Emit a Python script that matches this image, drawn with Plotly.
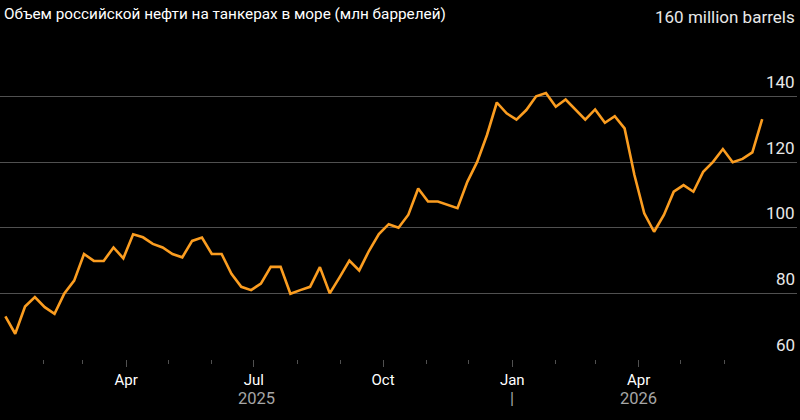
import pandas as pd
import plotly.graph_objects as go

# ---- data ----
start_date = "2025-01-05"
volumes = [73.0, 67.7, 76.0, 78.9, 75.8, 73.8, 80.0, 83.9, 92.0, 89.9,
           89.9, 94.0, 90.7, 98.0, 97.1, 95.1, 94.0, 92.0, 91.0, 96.0,
           97.0, 92.0, 92.0, 86.0, 82.0, 81.0, 83.0, 88.1, 88.1, 79.9,
           81.0, 82.0, 88.0, 80.0, 84.9, 90.0, 87.0, 93.0, 98.1, 101.1,
           100.0, 104.0, 112.0, 108.0, 108.0, 107.0, 106.0, 114.0, 120.1, 128.3,
           138.2, 134.9, 133.0, 135.9, 140.1, 141.1, 136.9, 139.1, 136.1, 133.0,
           136.1, 132.0, 134.0, 130.3, 116.1, 104.4, 98.8, 103.9, 111.0, 113.0,
           111.0, 117.1, 120.1, 124.0, 120.0, 121.0, 123.0, 133.1]
dates = pd.date_range(start_date, periods=len(volumes), freq="7D")

y_tickvals = [60, 80, 100, 120, 140, 160]
y_ticktext = ["60", "80", "100", "120", "140", "160 million barrels"]

x_major_vals = ["2025-04-01", "2025-07-01", "2025-10-01", "2026-01-01", "2026-04-01"]
x_major_text = ["Apr", "Jul", "Oct", "Jan", "Apr"]
x_minor_vals = [d.strftime("%Y-%m-%d") for d in pd.date_range("2025-02-01", "2026-06-01", freq="MS")]

year_labels = ["2025", "|", "2026"]
year_pos = ["2025-07-03", "2026-01-01", "2026-04-01"]

title = "Объем российской нефти на танкерах в море (млн баррелей)"

FONT = "Roboto"
GRID = "#505050"
LINE = "#fb9d20"

fig = go.Figure()
fig.add_trace(go.Scatter(x=dates, y=volumes, mode="lines",
                         line=dict(color=LINE, width=2.6), hoverinfo="skip"))

fig.update_layout(
    width=800, height=420,
    paper_bgcolor="#000000", plot_bgcolor="#000000",
    margin=dict(l=0, r=3, t=31, b=61),
    showlegend=False,
    font=dict(family=FONT, color="#ffffff", size=15),
    xaxis=dict(
        type="date",
        range=["2025-01-01 04:00", "2026-07-22 19:00"],
        tickmode="array", tickvals=x_major_vals, ticktext=x_major_text,
        ticks="outside", ticklen=7, tickcolor=GRID, tickwidth=1,
        tickfont=dict(family=FONT, size=15, color="#ffffff"),
        showgrid=False, zeroline=False, showline=False,
        minor=dict(tickmode="array", tickvals=x_minor_vals, ticks="outside",
                   ticklen=4, tickcolor=GRID, tickwidth=1, showgrid=False),
    ),
    yaxis=dict(
        range=[60, 160], side="right",
        tickmode="array", tickvals=y_tickvals,
        showticklabels=False, ticks="",
        showgrid=True, gridcolor=GRID, gridwidth=1,
        zeroline=False, showline=False,
    ),
)

annotations = []
for v, t in zip(y_tickvals, y_ticktext):
    annotations.append(dict(x=1, xref="paper", xanchor="right", y=v, yref="y",
                            yanchor="middle", yshift=14.5, text=t, showarrow=False,
                            font=dict(family=FONT, size=17, color="#e8e8e8")))
for t, d in zip(year_labels, year_pos):
    annotations.append(dict(x=d, xref="x", xanchor="center", y=-0.119, yref="paper",
                            yanchor="middle", text=t, showarrow=False,
                            font=dict(family=FONT, size=16.5, color="#a6a6a6")))
annotations.append(dict(x=0, xref="paper", xanchor="left", xshift=2, y=1, yref="paper",
                        yanchor="middle", yshift=17, text=title, showarrow=False,
                        font=dict(family=FONT, size=15.3, color="#ffffff")))
fig.update_layout(annotations=annotations)

fig.write_html("out.html")
